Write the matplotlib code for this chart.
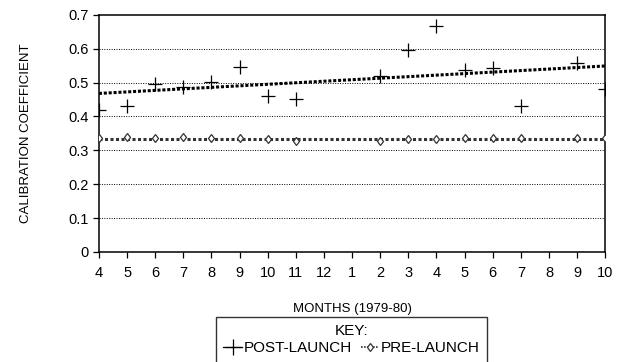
import numpy as np
import matplotlib
matplotlib.use('Agg')
from matplotlib import pyplot as plt

plt.rcParams['font.family'] = ['Liberation Sans', 'DejaVu Sans']

# month labels, Apr 1979 .. Oct 1980
month_labels = ['4', '5', '6', '7', '8', '9', '10', '11', '12', '1',
                '2', '3', '4', '5', '6', '7', '8', '9', '10']

# NaN where no measurement was plotted
post_launch = [0.418, 0.432, 0.495, 0.487, 0.501, 0.547, 0.461, 0.452, np.nan, np.nan,
               0.52, 0.595, 0.668, 0.538, 0.544, 0.43, np.nan, 0.558, 0.48]
pre_launch = [0.335, 0.338, 0.336, 0.34, 0.337, 0.337, 0.333, 0.329, np.nan, np.nan,
              0.328, 0.332, 0.333, 0.336, 0.337, 0.337, np.nan, 0.336, 0.335]

# trend lines (start, end)
post_trend = [0.468, 0.549]
pre_trend = [0.334, 0.334]

x = np.arange(len(month_labels))

fig = plt.figure(figsize=(6.22, 3.62), dpi=100)
ax = fig.add_axes([0.159, 0.304, 0.814, 0.655])

for yv in [0.1, 0.2, 0.3, 0.4, 0.5, 0.6]:
    ax.axhline(yv, color='black', lw=0.7, ls=(0, (1, 1.5)), zorder=1)

ax.plot([x[0], x[-1]], post_trend, color='black', lw=2.2, ls=(0, (1, 0.6)), zorder=2)
ax.plot([x[0], x[-1]], pre_trend, color='#333333', lw=2.2, ls=(0, (1, 0.8)), zorder=2)

ax.plot(x, post_launch, ls='none', marker='+', ms=10, mew=0.9, color='black',
        zorder=3, label='POST-LAUNCH')
ax.plot(x, pre_launch, ls='none', marker='d', ms=4.5, mew=0.9, mfc='white',
        mec='#333333', zorder=3, label='PRE-LAUNCH')

ax.set_xlim(0, len(month_labels) - 1)
ax.set_ylim(0, 0.7)
ax.set_xticks(x)
ax.set_xticklabels(month_labels)
ax.set_yticks([0, 0.1, 0.2, 0.3, 0.4, 0.5, 0.6, 0.7])
ax.set_yticklabels(['0', '0.1', '0.2', '0.3', '0.4', '0.5', '0.6', '0.7'])
ax.tick_params(axis='both', labelsize=10.5, length=4, width=0.9, direction='out')
ax.tick_params(axis='x', pad=6)
for s in ax.spines.values():
    s.set_linewidth(1.1)

ax.set_xlabel('MONTHS (1979-80)', fontsize=9.5, labelpad=17)
ax.set_ylabel('CALIBRATION COEFFICIENT', fontsize=9.5, labelpad=26)

# legend entries drawn with a line through the marker
h1, = ax.plot([], [], marker='+', ms=11, mew=0.9, color='black', lw=0.9)
h2, = ax.plot([], [], marker='d', ms=4.5, mew=0.9, mfc='white', mec='#333333',
              color='#333333', lw=1.2, ls=(0, (1, 0.8)))
leg = fig.legend([h1, h2], ['POST-LAUNCH', 'PRE-LAUNCH'], title='KEY:', ncol=2,
                 loc='upper center', bbox_to_anchor=(0.565, 0.125),
                 fontsize=11, title_fontsize=11, frameon=True, fancybox=False,
                 handlelength=1.2, handletextpad=0.1, columnspacing=0.6,
                 borderpad=0.5, borderaxespad=0, labelspacing=0.2)
leg.get_frame().set_edgecolor('black')
leg.get_frame().set_linewidth(1.0)

fig.savefig('out.png', dpi=100)
